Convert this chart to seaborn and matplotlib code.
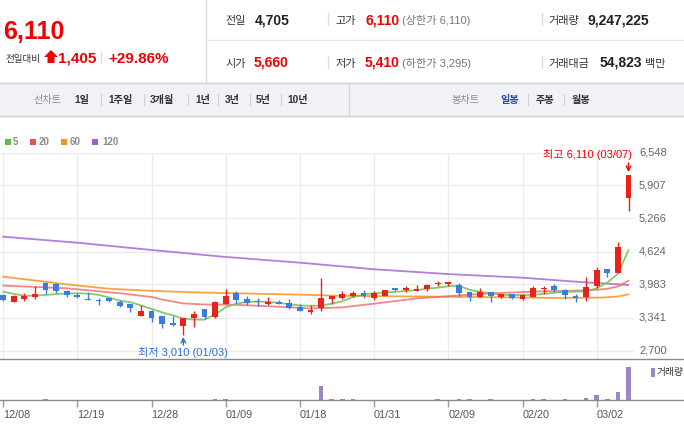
import matplotlib
matplotlib.use('Agg')
import matplotlib.pyplot as plt
from matplotlib.patches import Polygon, Rectangle
import seaborn as sns

sns.set_theme(style='white')
plt.rcParams['font.family'] = ['Liberation Sans', 'Noto Sans CJK KR', 'DejaVu Sans']

# ---- data ----
dates = ['12/08', '12/09', '12/12', '12/13', '12/14', '12/15', '12/16', '12/19', '12/20', '12/21',
         '12/22', '12/23', '12/26', '12/27', '12/28', '12/29', '01/02', '01/03', '01/04', '01/05',
         '01/06', '01/09', '01/10', '01/11', '01/12', '01/13', '01/16', '01/17', '01/18', '01/19',
         '01/20', '01/25', '01/26', '01/27', '01/30', '01/31', '02/01', '02/02', '02/03', '02/06',
         '02/07', '02/08', '02/09', '02/10', '02/13', '02/14', '02/15', '02/16', '02/17', '02/20',
         '02/21', '02/22', '02/23', '02/24', '02/27', '02/28', '03/02', '03/03', '03/06', '03/07']
opens = [3775, 3650, 3700, 3735, 4007, 3993, 3863, 3773, 3690, 3675,
         3720, 3650, 3605, 3377, 3468, 3370, 3241, 3183, 3338, 3507,
         3358, 3605, 3813, 3702, 3663, 3612, 3650, 3617, 3546, 3455,
         3533, 3702, 3727, 3760, 3818, 3727, 3760, 3893, 3885, 3860,
         3895, 3995, 3987, 3973, 3831, 3746, 3831, 3740, 3792, 3702,
         3746, 3900, 3961, 3876, 3766, 3746, 3961, 4285, 4201, 5660]
highs = [3800, 3775, 3810, 3955, 4010, 4010, 3870, 3810, 3840, 3715,
         3725, 3680, 3610, 3585, 3490, 3375, 3370, 3330, 3468, 3510,
         3655, 3895, 3860, 3755, 3715, 3735, 3690, 3695, 3610, 3578,
         4105, 3765, 3863, 3857, 3876, 3857, 3880, 3922, 3960, 3973,
         3993, 4050, 4035, 4018, 3835, 3909, 3840, 3805, 3795, 3790,
         3961, 3961, 3987, 3895, 3805, 4135, 4330, 4290, 4809, 6110]
lows = [3670, 3645, 3660, 3700, 3800, 3815, 3740, 3715, 3675, 3590,
        3640, 3540, 3455, 3377, 3260, 3145, 3180, 3010, 3150, 3313,
        3340, 3600, 3620, 3580, 3565, 3590, 3610, 3500, 3475, 3410,
        3475, 3605, 3702, 3735, 3715, 3690, 3760, 3860, 3835, 3857,
        3863, 3960, 3960, 3766, 3668, 3746, 3650, 3727, 3695, 3690,
        3746, 3792, 3844, 3702, 3650, 3668, 3915, 4135, 4200, 5410]
closes = [3690, 3760, 3766, 3805, 3876, 3857, 3785, 3735, 3680, 3665,
          3660, 3570, 3533, 3468, 3326, 3215, 3190, 3326, 3410, 3358,
          3650, 3766, 3682, 3624, 3635, 3650, 3612, 3533, 3475, 3487,
          3715, 3760, 3798, 3818, 3766, 3818, 3876, 3885, 3893, 3895,
          3973, 4005, 4030, 3824, 3746, 3831, 3766, 3798, 3714, 3780,
          3909, 3910, 3876, 3785, 3714, 3934, 4259, 4213, 4705, 6110]
volumes = [20000, 20000, 20000, 20000, 250000, 20000, 20000, 20000, 20000, 20000,
           20000, 20000, 20000, 20000, 20000, 20000, 20000, 20000, 20000, 20000,
           250000, 250000, 20000, 20000, 20000, 20000, 20000, 20000, 20000, 20000,
           3850000, 250000, 250000, 250000, 20000, 20000, 20000, 20000, 20000, 20000,
           20000, 250000, 20000, 250000, 250000, 20000, 250000, 20000, 20000, 20000,
           250000, 250000, 20000, 250000, 20000, 510000, 1280000, 250000, 2310000, 9247225]

ma5 = [3844, 3800, 3765, 3765, 3780, 3795, 3808, 3813, 3805, 3782,
       3730, 3668, 3640, 3575, 3510, 3440, 3385, 3320, 3300, 3300,
       3400, 3540, 3610, 3640, 3652, 3645, 3625, 3600, 3575, 3570,
       3572, 3610, 3655, 3740, 3790, 3810, 3825, 3842, 3855, 3875,
       3900, 3922, 3948, 3960, 3880, 3840, 3812, 3782, 3775, 3778,
       3780, 3800, 3822, 3840, 3845, 3850, 3910, 4020, 4190, 4650]
ma20_day = [0, 6, 11, 14, 15, 17, 19, 22, 26, 29, 32, 35, 39, 43, 46, 50, 54, 56, 57, 58, 59]
ma20 = [3961, 3909, 3813, 3740, 3690, 3615, 3595, 3588, 3550, 3518, 3538, 3610, 3712, 3770,
        3810, 3844, 3863, 3880, 3900, 3945, 4056]
ma60_day = [0, 3, 6, 10, 14, 18, 22, 28, 32, 40, 46, 52, 56, 57, 58, 59]
ma60 = [4135, 4060, 3985, 3900, 3860, 3830, 3812, 3785, 3762, 3748, 3735, 3722, 3727, 3735, 3750, 3793]
ma120_day = [0, 7, 14, 21, 28, 35, 42, 49, 54, 59]
ma120 = [4912, 4795, 4654, 4518, 4407, 4279, 4185, 4115, 4038, 3973]

price_ticks = [2700, 3341, 3983, 4624, 5266, 5907, 6548]
price_labels = ['2,700', '3,341', '3,983', '4,624', '5,266', '5,907', '6,548']
date_ticks = ['12/08', '12/19', '12/28', '01/09', '01/18', '01/31', '02/09', '02/20', '03/02']

RED = '#e8231c'
BLUE = '#3a7de0'
TXT_RED = '#f00000'

W, H = 684, 425
fig = plt.figure(figsize=(W / 100, H / 100), dpi=100)

def fy(py):
    return 1 - py / H

step = 10.6
x0 = 3.1
xlim = (-x0 / step, (W - x0) / step)
ppp = (6548 - 2700) / 198.0

# ---- price chart ----
ax = fig.add_axes([0, fy(358.5), 1, (358.5 - 152.5) / H])
ax.set_xlim(*xlim)
ax.set_ylim(2700 - 8 * ppp, 6548)
ax.axis('off')

tick_pos = [dates.index(d) for d in date_ticks]
for v in price_ticks:
    ax.axhline(v, xmin=0, xmax=633 / W, color='#ebebeb', lw=1, zorder=0)
for t in tick_pos:
    ax.axvline(t, color='#ebebeb', lw=1, zorder=0)

idx = list(range(len(dates)))
sns.lineplot(x=ma120_day, y=ma120, ax=ax, color='#a468d2', lw=1.3, alpha=0.85, zorder=2)
sns.lineplot(x=ma60_day, y=ma60, ax=ax, color='#f7931e', lw=1.3, alpha=0.85, zorder=2)
sns.lineplot(x=ma20_day, y=ma20, ax=ax, color='#f26868', lw=1.3, alpha=0.8, zorder=2)
sns.lineplot(x=idx, y=ma5, ax=ax, color='#78c45a', lw=1.3, alpha=0.9, zorder=2)

cols = [RED if c >= o else BLUE for o, c in zip(opens, closes)]
ax.vlines(idx, lows, highs, colors=cols, lw=1, zorder=3)
bottoms = [min(o, c) for o, c in zip(opens, closes)]
heights = [max(abs(c - o), 22) for o, c in zip(opens, closes)]
ax.bar(idx, heights, bottom=bottoms, width=0.54, color=cols, linewidth=0, zorder=4)

for v, lab in zip(price_ticks, price_labels):
    ax.text(639 / W, v, lab, transform=ax.get_yaxis_transform(), ha='left', va='center',
            fontsize=8, color='#666666')

hi = closes.index(max(highs))
ax.text((632 - x0) / step, 6548 - 2.5 * ppp, '최고 6,110 (03/07)', ha='right', va='center',
        fontsize=8, color=TXT_RED)
ax.annotate('', xy=(hi, 6548 - 19.5 * ppp), xytext=(hi, 6548 - 10.5 * ppp),
            arrowprops=dict(arrowstyle='->', color=TXT_RED, lw=1, mutation_scale=8,
                            shrinkA=0, shrinkB=0))
lo = lows.index(min(lows))
ax.text(lo, 6548 - 199.5 * ppp, '최저 3,010 (01/03)', ha='center', va='center',
        fontsize=8, color='#2a6fd8')
ax.annotate('', xy=(lo, 6548 - 184.5 * ppp), xytext=(lo, 6548 - 192.5 * ppp),
            arrowprops=dict(arrowstyle='->', color='#2a6fd8', lw=1, mutation_scale=8,
                            shrinkA=0, shrinkB=0))

# ---- volume chart ----
vax = fig.add_axes([0, fy(400), 1, (400 - 358.5) / H])
vax.patch.set_alpha(0)
vax.set_xlim(*xlim)
vax.set_ylim(0, 9247225 * 41.5 / 33.5)
vax.bar(idx, volumes, width=0.42, color='#9c86c8', linewidth=0)
for s in ['left', 'right']:
    vax.spines[s].set_visible(False)
for s in ['top', 'bottom']:
    vax.spines[s].set_color('#8a8a8a')
    vax.spines[s].set_linewidth(1)
vax.set_yticks([])
vax.set_xticks(tick_pos)
vax.set_xticklabels(date_ticks, ha='left')
vax.tick_params(axis='x', bottom=True, direction='out', length=5, width=1, color='#9a9a9a',
                labelsize=7.8, labelcolor='#555555', pad=2)

# ---- overlay for header, toolbar, legends ----
ov = fig.add_axes([0, 0, 1, 1])
ov.set_xlim(0, W)
ov.set_ylim(H, 0)
ov.axis('off')

# header
ov.plot([206, 206], [0, 83], color='#dddddd', lw=1)
ov.plot([206, W], [40, 40], color='#e6e6e6', lw=1)
ov.text(3, 39.3, '6,110', fontsize=18, fontweight='bold', color=TXT_RED, va='baseline')
ov.text(5, 62, '전일대비', fontsize=6.9, color='#333333', va='baseline')
ov.add_patch(Polygon([(44, 57), (51, 50), (58, 57), (54.5, 57), (54.5, 63), (47.5, 63), (47.5, 57)],
                     closed=True, color=TXT_RED, lw=0))
ov.text(58, 62.5, '1,405', fontsize=11, fontweight='bold', color=TXT_RED, va='baseline')
ov.plot([101, 101], [51, 63], color='#dddddd', lw=1)
ov.text(108, 62.5, '+29.86%', fontsize=11, fontweight='bold', color=TXT_RED, va='baseline')

rows = [
    (24, [('전일', 225, 'normal', '#333333', 8), ('4,705', 255, 'bold', '#222222', 10),
          ('고가', 335, 'normal', '#333333', 8), ('6,110', 365, 'bold', TXT_RED, 10),
          ('(상한가 6,110)', 402, 'normal', '#777777', 8),
          ('거래량', 548, 'normal', '#333333', 8), ('9,247,225', 588, 'bold', '#222222', 10)]),
    (66.5, [('시가', 225, 'normal', '#333333', 8), ('5,660', 254, 'bold', TXT_RED, 10),
            ('저가', 335, 'normal', '#333333', 8), ('5,410', 365, 'bold', TXT_RED, 10),
            ('(하한가 3,295)', 402, 'normal', '#777777', 8),
            ('거래대금', 548, 'normal', '#333333', 8), ('54,823', 600, 'bold', '#222222', 10),
            ('백만', 645, 'normal', '#333333', 8)]),
]
for yb, items in rows:
    for s, xx, wt, c, fs in items:
        ov.text(xx, yb, s, fontsize=fs, fontweight=wt, color=c, va='baseline')
    for xs in [328, 542]:
        ov.plot([xs, xs], [yb - 11, yb + 1], color='#dddddd', lw=1)

# toolbar band
ov.add_patch(Rectangle((0, 83), W, 33, facecolor='#f1f2f6', edgecolor='none'))
ov.plot([0, W], [83, 83], color='#d0d0d0', lw=1)
ov.plot([0, W], [116, 116], color='#d0d0d0', lw=1)
ov.plot([349, 349], [83, 116], color='#d6d6d6', lw=1)
band = [('선차트', 33, False), ('1일', 74, True), ('1주일', 108, True), ('3개월', 150, True),
        ('1년', 195, True), ('3년', 225, True), ('5년', 256, True), ('10년', 287, True),
        ('봉차트', 451, False), ('일봉', 500, True), ('주봉', 536, True), ('월봉', 572, True)]
for s, xx, b in band:
    col = '#8a8a8a' if not b else ('#1d4fa8' if s == '일봉' else '#333333')
    ov.text(xx, 99.5, s, fontsize=7.3, fontweight='bold' if b else 'normal', color=col, va='center')
for xs in [100.5, 144, 188, 218, 250, 281, 528, 564]:
    ov.plot([xs, xs], [94, 105], color='#d0d0d0', lw=0.8)

# moving-average legend
legend = [('5', 5, 13, '#5dbb46'), ('20', 30, 39, '#f04e4e'), ('60', 61, 70, '#f7931d'),
          ('120', 92, 102, '#9e5fce')]
for s, xs, xt, c in legend:
    ov.add_patch(Rectangle((xs, 139), 5.5, 5.5, color=c, lw=0))
    ov.text(xt, 142, s, fontsize=7, fontweight='bold', color='#8a8a8a', va='center')

# volume legend
ov.add_patch(Rectangle((651, 367.5), 3.5, 9, color='#9c86c8', lw=0))
ov.text(656.5, 372, '거래량', fontsize=7, color='#333333', va='center')

fig.savefig('out.png', dpi=100)
